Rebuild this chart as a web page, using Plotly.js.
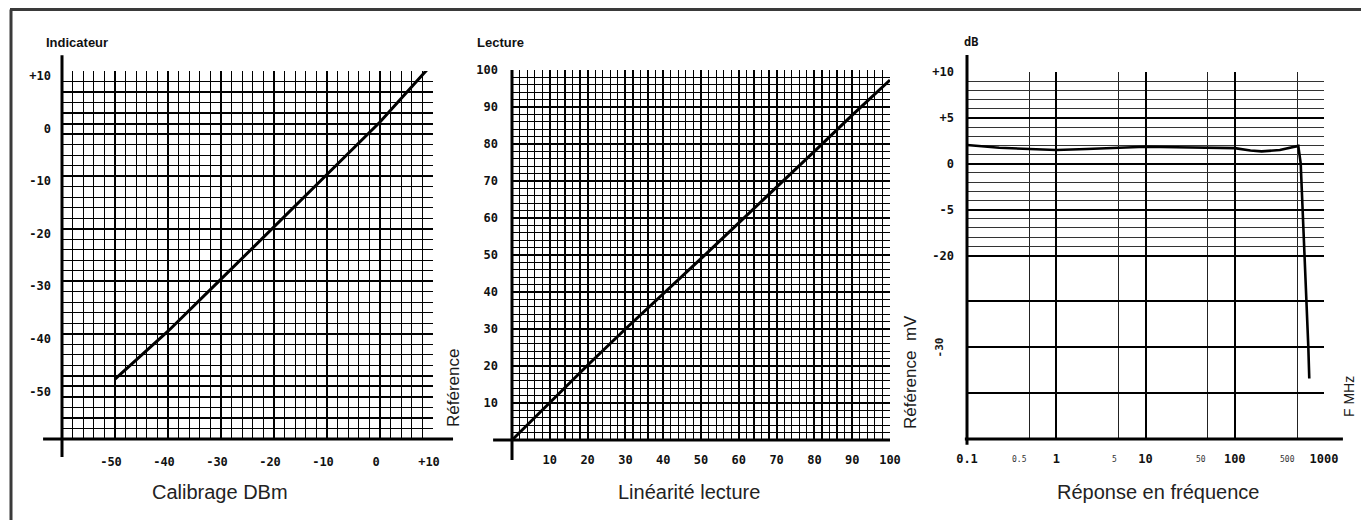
<!DOCTYPE html>
<html>
<head>
<meta charset="utf-8">
<script src="https://cdn.plot.ly/plotly-3.0.1.min.js"></script>
<style>html,body{margin:0;padding:0;background:#fff;}#chart{width:1361px;height:520px;}</style>
</head>
<body>
<div id="chart"></div>
<script>
// ---- Data ----
// Panel 1: Calibrage DBm
const calibX = [-50, -40, -30, -20, -10, 0, 10];
const calibY = [-48.6, -39.5, -29.6, -19.6, -9.6, 0.3, 11.5];
const calibTickVals = [-50, -40, -30, -20, -10, 0, 10];
const calibTickText = ['-50', '-40', '-30', '-20', '-10', '0', '+10'];

// Panel 2: Linéarité lecture
const linX = [0, 10, 20, 30, 40, 50, 60, 70, 80, 90, 100];
const linY = [0, 10.1, 20.2, 30, 39.4, 49, 58.7, 68.3, 78, 87.8, 97.3];
const linTickVals = [10, 20, 30, 40, 50, 60, 70, 80, 90, 100];
const linTickText = ['10', '20', '30', '40', '50', '60', '70', '80', '90', '100'];

// Panel 3: Réponse en fréquence (x in MHz, y in chart rows)
const freqX = [0.1, 0.23, 0.5, 1, 2.2, 5, 10, 22, 50, 100, 150, 200, 320, 450, 515, 548, 577, 601, 640, 667, 684];
const freqY = [2.05, 1.75, 1.6, 1.5, 1.6, 1.75, 1.85, 1.8, 1.78, 1.7, 1.45, 1.35, 1.5, 1.8, 1.95, 0.05, -5.0, -9.7, -14.9, -19.9, -23.4];
const freqXTickVals = [0.1, 1, 10, 100, 1000];
const freqXTickText = ['0.1', '1', '10', '100', '1000'];
const freqXSmallVals = [0.5, 5, 50, 500];
const freqXSmallText = ['0.5', '5', '50', '500'];
const freqYTickVals = [10, 5, 0, -5, -10, -15, -20, -25];
const freqYTickText = ['+10', '+5', '0', '-5', '-20', '', '', ''];
const freqYRotLabel = '-30';
const freqYRotPos = -20;

// ---- helpers for minor grid positions ----
function minorBetween(a, b, step, major) {
  const out = [];
  for (let v = a + step; v < b; v += step) {
    if (Math.abs(v % major) > 1e-9) out.push(v);
  }
  return out;
}
const fineY3 = [];
for (let v = -9; v <= 9; v++) { if (v % 5 !== 0) fineY3.push(v); }

const W = 1361, H = 520;
const px = v => v / W;
const py = v => 1 - v / H;

const tickFont = {family: 'DejaVu Sans Mono, monospace', size: 12, color: '#111', weight: 'bold'};
const INK = '#000';
const MINOR = {showgrid: true, gridcolor: '#000', gridwidth: 1.2, ticks: ''};

const traces = [
  {x: calibX, y: calibY, xaxis: 'x', yaxis: 'y', mode: 'lines', line: {color: INK, width: 3}},
  {x: linX, y: linY, xaxis: 'x2', yaxis: 'y2', mode: 'lines', line: {color: INK, width: 3}},
  {x: freqX, y: freqY, xaxis: 'x3', yaxis: 'y3', mode: 'lines', line: {color: INK, width: 2.6}}
];

function baseAxis(extra) {
  return Object.assign({
    showline: false, zeroline: false, ticks: '', showgrid: true,
    gridcolor: INK, gridwidth: 2, tickfont: tickFont, automargin: false,
    fixedrange: true
  }, extra);
}

const layout = {
  width: W, height: H,
  margin: {l: 0, r: 0, t: 0, b: 0},
  paper_bgcolor: '#fff', plot_bgcolor: '#fff',
  showlegend: false, hovermode: false,
  xaxis: baseAxis({domain: [px(62), px(433)], range: [-60, 10], anchor: 'y',
    tickmode: 'array', tickvals: calibTickVals, ticktext: calibTickText,
    ticklabelstandoff: 14, ticklabelshift: -4,
    minor: Object.assign({tickmode: 'array', tickvals: minorBetween(-60, 10, 2, 10)}, MINOR)}),
  yaxis: baseAxis({domain: [py(439), py(71)], range: [-60, 10], anchor: 'x',
    tickmode: 'array', tickvals: calibTickVals, ticktext: calibTickText,
    ticklabelstandoff: 10, ticklabelshift: 5,
    minor: Object.assign({tickmode: 'array', tickvals: minorBetween(-60, 10, 2, 10)}, MINOR)}),
  xaxis2: baseAxis({domain: [px(512), px(890)], range: [0, 100], anchor: 'y2',
    tickmode: 'array', tickvals: linTickVals, ticktext: linTickText,
    ticklabelstandoff: 11,
    minor: Object.assign({tickmode: 'array', tickvals: minorBetween(0, 100, 2, 10)}, MINOR)}),
  yaxis2: baseAxis({domain: [py(440), py(70)], range: [0, 100], anchor: 'x2',
    tickmode: 'array', tickvals: linTickVals, ticktext: linTickText,
    ticklabelstandoff: 13,
    minor: Object.assign({tickmode: 'array', tickvals: minorBetween(0, 100, 2, 10)}, MINOR)}),
  xaxis3: baseAxis({domain: [px(967), px(1324)], type: 'log', range: [-1, 3], anchor: 'y3',
    tickmode: 'array', tickvals: freqXTickVals, ticktext: freqXTickText,
    ticklabelstandoff: 11,
    minor: {tickmode: 'array', tickvals: freqXSmallVals, showgrid: true, gridcolor: '#222', gridwidth: 1, ticks: ''}}),
  yaxis3: baseAxis({domain: [py(439), py(72)], range: [-30, 10], anchor: 'x3',
    tickmode: 'array', tickvals: freqYTickVals, ticktext: freqYTickText,
    ticklabelstandoff: 12,
    minor: {tickmode: 'array', tickvals: fineY3, showgrid: true, gridcolor: '#333', gridwidth: 1, ticks: ''}}),
  shapes: [],
  annotations: []
};

// axis cross lines (extend beyond grid as in the drawing)
function axLine(xr, yr, x0, x1, y0, y1) {
  layout.shapes.push({type: 'line', xref: xr, yref: yr, x0: x0, x1: x1, y0: y0, y1: y1,
    line: {color: INK, width: 3}});
}
axLine('x domain', 'y domain', 0, 0, -0.049, 1.043);
axLine('x domain', 'y domain', -0.051, 1.054, 0, 0);
axLine('x2 domain', 'y2 domain', 0, 0, -0.054, 1);
axLine('x2 domain', 'y2 domain', -0.05, 1, 0, 0);
axLine('x3 domain', 'y3 domain', 0, 0, -0.016, 1.046);
axLine('x3 domain', 'y3 domain', -0.006, 1.053, 0, 0);

// page frame (top and left edges)
layout.shapes.push({type: 'line', xref: 'paper', yref: 'paper', x0: px(10), x1: 1, y0: py(9.5), y1: py(9.5), line: {color: '#3a3a3a', width: 3}});
layout.shapes.push({type: 'line', xref: 'paper', yref: 'paper', x0: px(11), x1: px(11), y0: 0, y1: py(9.5), line: {color: '#3a3a3a', width: 3}});

function note(text, x, y, opts) {
  layout.annotations.push(Object.assign({text: text, x: px(x), y: py(y), xref: 'paper', yref: 'paper',
    showarrow: false, xanchor: 'center', yanchor: 'middle'}, opts || {}));
}
const capFont = {family: 'Liberation Sans, Arial, sans-serif', size: 20, color: '#222'};
note('Calibrage DBm', 220, 492, {font: capFont});
note('Linéarité lecture', 689, 492, {font: capFont});
note('Réponse en fréquence', 1158, 492, {font: capFont});

const labFont = {family: 'Liberation Sans, Arial, sans-serif', size: 13, color: '#111', weight: 'bold'};
note('Indicateur', 44, 42, {font: labFont, xanchor: 'left'});
note('Lecture', 475, 42, {font: labFont, xanchor: 'left'});
note('dB', 962, 42, {font: {family: 'DejaVu Sans Mono, monospace', size: 12, color: '#111', weight: 'bold'}, xanchor: 'left'});

const rotFont = {family: 'Liberation Sans, Arial, sans-serif', size: 17, color: '#1a1a1a'};
note('Référence', 453, 388, {font: rotFont, textangle: -90});
note('Référence&nbsp;&nbsp;mV', 910, 372, {font: rotFont, textangle: -90});
note('F&nbsp;MHz', 1349, 397, {font: {family: 'Liberation Sans, Arial, sans-serif', size: 14, color: '#1a1a1a'}, textangle: -90});

// rotated -30 label on the response chart
layout.annotations.push({text: freqYRotLabel, xref: 'x3 domain', yref: 'y3', x: -0.078, y: freqYRotPos,
  showarrow: false, textangle: -90, xanchor: 'center', yanchor: 'middle',
  font: {family: 'DejaVu Sans Mono, monospace', size: 11, color: '#1a1a1a', weight: 'bold'}});

// small frequency labels
freqXSmallVals.forEach((v, i) => {
  layout.annotations.push({text: freqXSmallText[i], xref: 'x3', yref: 'y3 domain', x: Math.log10(v), y: -0.055,
    showarrow: false, xanchor: 'right', yanchor: 'middle',
    font: {family: 'DejaVu Sans Mono, monospace', size: 8, color: '#333'}});
});

Plotly.newPlot('chart', traces, layout, {displayModeBar: false, staticPlot: true});
</script>
</body>
</html>
